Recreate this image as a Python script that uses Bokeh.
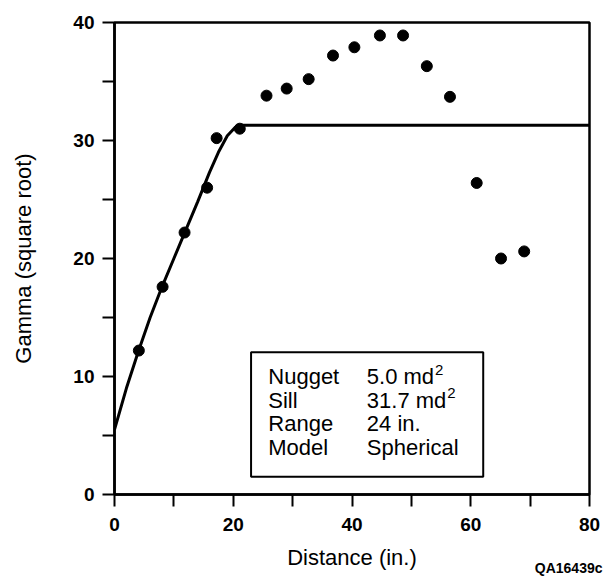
from bokeh.plotting import figure
from bokeh.models import FixedTicker, BoxAnnotation, Label, Range1d, Title
from bokeh.embed import file_html
from bokeh.resources import INLINE

# Experimental variogram points
dist = [4.1, 8.1, 11.8, 15.6, 17.2, 21.1, 25.6, 29.0, 32.7, 36.8, 40.4, 44.7, 48.6, 52.6, 56.5, 61.0, 65.1, 69.0]
gamma = [12.2, 17.6, 22.2, 26.0, 30.2, 31.0, 33.8, 34.4, 35.2, 37.2, 37.9, 38.9, 38.9, 36.3, 33.7, 26.4, 20.0, 20.6]

# Fitted spherical model
model_x = [0, 2, 4, 6, 8, 10, 12, 14, 16, 17.5, 19, 20.3, 21, 80]
model_y = [5.5, 9.0, 12.1, 15.0, 17.6, 20.0, 22.4, 24.8, 27.3, 29.0, 30.4, 31.1, 31.3, 31.3]

info_names = ["Nugget", "Sill", "Range", "Model"]
info_values = ["5.0 md", "31.7 md", "24 in.", "Spherical"]
info_sup = ["2", "2", "", ""]
info_rows = [10, 8, 6, 4]

x_ticks = [0, 10, 20, 30, 40, 50, 60, 70, 80]
x_labels = {0: "0", 10: "", 20: "20", 30: "", 40: "40", 50: "", 60: "60", 70: "", 80: "80"}
y_ticks = [0, 10, 20, 30, 40]
y_minor = [5, 15, 25, 35]

FONT = "Liberation Sans"
INFO_SIZE = 22
# Arial/Liberation Sans advance widths (em) to place the superscripts
ADV = {"0": .556, "1": .556, "2": .556, "3": .556, "4": .556, "5": .556, "6": .556, "7": .556,
       "8": .556, "9": .556, ".": .278, " ": .278, "m": .833, "d": .556, "i": .222, "n": .556}


def text_width(s, size):
    return sum(ADV.get(c, .556) for c in s) * size


p = figure(width=605, height=576, output_backend="svg", toolbar_location=None,
           x_range=Range1d(0, 80), y_range=Range1d(0, 40),
           min_border_left=114, min_border_right=16, min_border_top=22, min_border_bottom=82)
p.background_fill_color = "white"
p.border_fill_color = "white"
p.grid.visible = False
p.outline_line_color = "black"
p.outline_line_width = 2.5
p.outline_line_alpha = 1.0

# axes
for ax in (p.xaxis[0], p.yaxis[0]):
    ax.axis_line_width = 2.5
    ax.axis_line_color = "black"
    ax.major_tick_line_width = 2
    ax.minor_tick_line_width = 2
    ax.major_tick_in = 0
    ax.major_tick_out = 12
    ax.minor_tick_in = 0
    ax.minor_tick_out = 12
    ax.major_label_text_font = FONT
    ax.major_label_text_font_size = "19px"
    ax.major_label_text_font_style = "bold"
    ax.major_label_text_color = "black"
    ax.axis_label_text_font = FONT
    ax.axis_label_text_font_size = "22px"
    ax.axis_label_text_font_style = "normal"
    ax.axis_label_text_color = "black"

p.xaxis.ticker = FixedTicker(ticks=x_ticks)
p.xaxis.major_label_overrides = x_labels
p.xaxis.major_label_standoff = 11
p.xaxis.axis_label = "Distance (in.)"
p.xaxis.axis_label_standoff = 11

p.yaxis.ticker = FixedTicker(ticks=y_ticks, minor_ticks=y_minor)
p.yaxis.major_label_standoff = 8
p.yaxis.axis_label = "Gamma (square root)"
p.yaxis.axis_label_standoff = 34

# model curve and points
p.line(model_x, model_y, line_color="black", line_width=3)
p.scatter(dist, gamma, size=11, fill_color="black", line_color="black")

# info box
p.add_layout(BoxAnnotation(left=23.0, right=62.1, bottom=1.5, top=12.06,
                           fill_color="white", fill_alpha=1.0,
                           line_color="black", line_alpha=1.0, line_width=2, level="annotation"))
for name, val, sup, row in zip(info_names, info_values, info_sup, info_rows):
    p.add_layout(Label(x=25.9, y=row, text=name, text_font=FONT, text_font_size=f"{INFO_SIZE}px",
                       text_baseline="middle", text_color="black"))
    p.add_layout(Label(x=42.5, y=row, text=val, text_font=FONT, text_font_size=f"{INFO_SIZE}px",
                       text_baseline="middle", text_color="black"))
    if sup:
        p.add_layout(Label(x=42.5, y=row, x_offset=text_width(val, INFO_SIZE) + 1, y_offset=7,
                           text=sup, text_font=FONT, text_font_size="15px",
                           text_baseline="middle", text_color="black"))

# figure id as a title below the x axis
p.add_layout(Title(text="QA16439c", align="right", vertical_align="top", offset=-13, standoff=-26,
                   text_font=FONT, text_font_size="14px", text_font_style="bold",
                   text_color="black"), "below")

open("out.html", "w").write(file_html(p, INLINE))
